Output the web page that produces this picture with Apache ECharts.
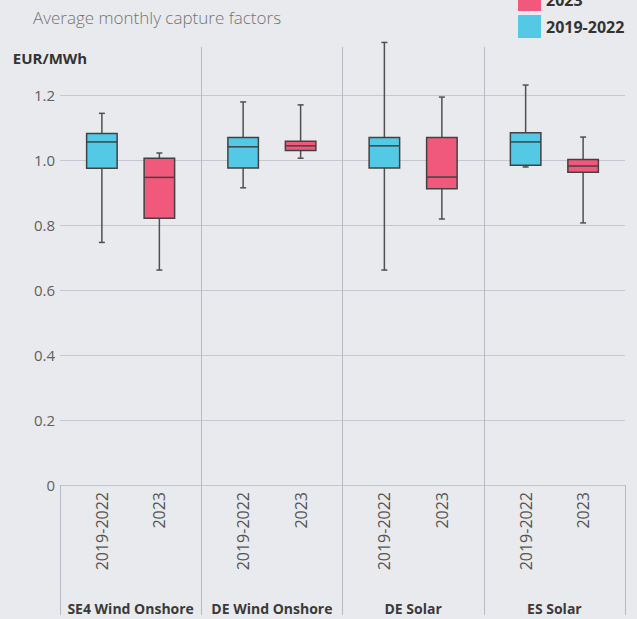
<!DOCTYPE html>
<html>
<head>
<meta charset="utf-8">
<script src="https://cdn.jsdelivr.net/npm/echarts@6/dist/echarts.min.js"></script>
<style>
  html, body { margin: 0; padding: 0; background: #e9eaed; }
  #chart { width: 637px; height: 619px; }
</style>
</head>
<body>
<div id="chart"></div>
<script>
// Technology / market groups along the x axis
const groups = ['SE4 Wind Onshore', 'DE Wind Onshore', 'DE Solar', 'ES Solar'];
// Period series, in the order they sit inside each group
const periods = ['2019-2022', '2023'];
// Box statistics per group: [min, Q1, median, Q3, max]
const stats2019to2022 = [
  [0.746, 0.974, 1.055, 1.081, 1.143],
  [0.914, 0.975, 1.040, 1.069, 1.178],
  [0.661, 0.975, 1.043, 1.069, 1.361],
  [0.978, 0.983, 1.055, 1.083, 1.230]
];
const stats2023 = [
  [0.661, 0.820, 0.946, 1.005, 1.021],
  [1.005, 1.029, 1.043, 1.057, 1.169],
  [0.818, 0.911, 0.947, 1.069, 1.193],
  [0.806, 0.962, 0.981, 1.001, 1.070]
];
// Value axis ticks
const yTickValues = [0, 0.2, 0.4, 0.6, 0.8, 1.0, 1.2];

const FONT = '"Open Sans", "Noto Sans", sans-serif';
const colors = { '2019-2022': '#53c9e5', '2023': '#f0587c' };

function toRows(stats) {
  return stats.map((s, i) => [i].concat(s));
}

// Draws one box with whiskers, plus its period label under the axis
function boxRenderer(offsetFrac, fill, periodLabel) {
  return function (params, api) {
    const cat = api.value(0);
    const band = api.size([1, 0])[0];
    const cx = api.coord([cat, 0])[0] + band * offsetFrac;
    const py = v => api.coord([cat, v])[1];
    const yMin = py(api.value(1));
    const yQ1 = py(api.value(2));
    const yMed = py(api.value(3));
    const yQ3 = py(api.value(4));
    const yMax = py(api.value(5));
    const yZero = py(0);
    const bw = band * 0.216;
    const cap = 3;
    const whisker = { stroke: '#505050', lineWidth: 1.5 };
    return {
      type: 'group',
      children: [
        { type: 'line', shape: { x1: cx, y1: yMax, x2: cx, y2: yQ3 }, style: whisker },
        { type: 'line', shape: { x1: cx, y1: yQ1, x2: cx, y2: yMin }, style: whisker },
        { type: 'line', shape: { x1: cx - cap, y1: yMax, x2: cx + cap, y2: yMax }, style: whisker },
        { type: 'line', shape: { x1: cx - cap, y1: yMin, x2: cx + cap, y2: yMin }, style: whisker },
        {
          type: 'rect',
          shape: { x: cx - bw / 2, y: yQ3, width: bw, height: yQ1 - yQ3 },
          style: { fill: fill, stroke: '#424242', lineWidth: 1.5 }
        },
        { type: 'line', shape: { x1: cx - bw / 2, y1: yMed, x2: cx + bw / 2, y2: yMed },
          style: { stroke: '#424242', lineWidth: 1.5 } },
        {
          type: 'text',
          x: cx,
          y: yZero + 7,
          rotation: Math.PI / 2,
          style: {
            text: periodLabel,
            align: 'right',
            verticalAlign: 'middle',
            fill: '#555555',
            fontSize: 16,
            fontFamily: FONT
          }
        }
      ]
    };
  };
}

const chart = echarts.init(document.getElementById('chart'), null, { renderer: 'svg' });

chart.setOption({
  backgroundColor: '#e9eaed',
  animation: false,
  title: {
    text: 'Average monthly capture factors',
    left: 33,
    top: 9,
    padding: 0,
    textStyle: { fontFamily: FONT, fontSize: 17, fontWeight: 300, color: '#737373' }
  },
  legend: {
    data: [periods[1], periods[0]],
    orient: 'vertical',
    left: 518,
    top: -12,
    padding: 0,
    itemWidth: 23,
    itemHeight: 23,
    itemGap: 4,
    icon: 'rect',
    textStyle: { fontFamily: FONT, fontSize: 16, fontWeight: 'bold', color: '#333333' }
  },
  grid: { left: 60, right: 12, top: 47, bottom: 134, containLabel: false },
  xAxis: {
    type: 'category',
    data: groups,
    boundaryGap: true,
    axisLine: { lineStyle: { color: '#c3c6cf', width: 1 } },
    axisTick: { show: true, length: 130, lineStyle: { color: '#b8bbc5', width: 1 } },
    axisLabel: {
      margin: 116,
      interval: 0,
      fontFamily: FONT,
      fontSize: 14,
      fontWeight: 'bold',
      color: '#3a3a3a'
    },
    splitLine: {
      show: true,
      showMinLine: false,
      showMaxLine: false,
      lineStyle: { color: '#b8bbc5', width: 1 }
    }
  },
  yAxis: {
    type: 'value',
    min: yTickValues[0],
    max: 1.347,
    interval: 0.2,
    name: 'EUR/MWh',
    nameLocation: 'end',
    nameGap: -11,
    nameTextStyle: {
      fontFamily: FONT, fontSize: 15, fontWeight: 'bold', color: '#333333',
      align: 'center', verticalAlign: 'middle', padding: [0, 20, 0, 0]
    },
    axisLine: { show: false },
    axisTick: { show: false },
    axisLabel: {
      margin: 5,
      showMaxLabel: false,
      fontFamily: FONT,
      fontSize: 15,
      color: '#606060',
      formatter: v => (v === 0 ? '0' : v.toFixed(1))
    },
    splitLine: { show: true, showMaxLine: false, lineStyle: { color: '#c5c8d0', width: 1 } }
  },
  series: [
    {
      name: periods[0],
      type: 'custom',
      clip: false,
      itemStyle: { color: colors[periods[0]] },
      encode: { x: 0, y: [1, 2, 3, 4, 5] },
      renderItem: boxRenderer(-0.2035, colors[periods[0]], periods[0]),
      data: toRows(stats2019to2022)
    },
    {
      name: periods[1],
      type: 'custom',
      clip: false,
      itemStyle: { color: colors[periods[1]] },
      encode: { x: 0, y: [1, 2, 3, 4, 5] },
      renderItem: boxRenderer(0.2035, colors[periods[1]], periods[1]),
      data: toRows(stats2023)
    }
  ]
});
</script>
</body>
</html>
